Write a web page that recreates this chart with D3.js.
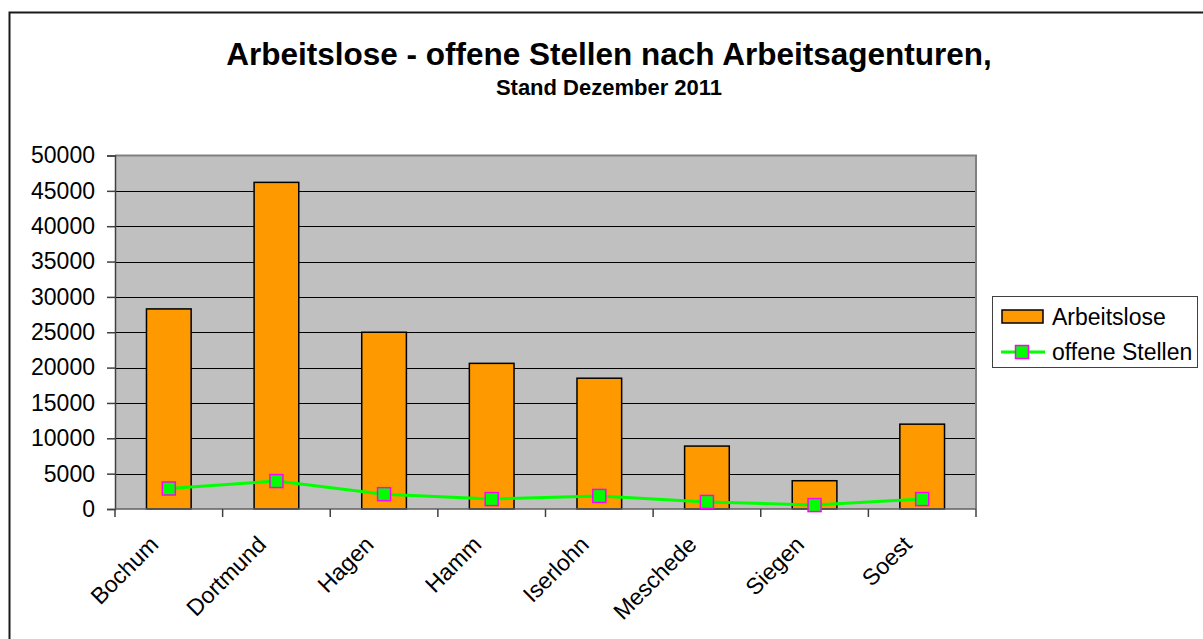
<html>
<head>
  <meta charset="utf-8">
  <title>Arbeitslose - offene Stellen</title>
  <script src="https://cdn.jsdelivr.net/npm/d3@7"></script>
  <style>
    body { margin: 0; background: #fff; }
    text { font-family: "Liberation Sans", Arial, sans-serif; fill: #000; }
  </style>
</head>
<body>
  <div id="chart"></div>
  <script>
    // values
    const cities = ["Bochum", "Dortmund", "Hagen", "Hamm", "Iserlohn", "Meschede", "Siegen", "Soest"];
    const arbeitslose = [28300, 46200, 25000, 20600, 18500, 8900, 4000, 12000];
    const offeneStellen = [2900, 3950, 2100, 1400, 1850, 1000, 550, 1400];
    const yTicks = [0, 5000, 10000, 15000, 20000, 25000, 30000, 35000, 40000, 45000, 50000];
    const seriesNames = ["Arbeitslose", "offene Stellen"];

    const W = 1203, H = 639;
    const plot = { left: 115, right: 976, top: 155.5, bottom: 509 };

    const svg = d3.select("#chart").append("svg")
      .attr("width", W).attr("height", H);

    // outer chart frame
    svg.append("rect")
      .attr("x", 9.5).attr("y", 12.5)
      .attr("width", 1300).attr("height", 800)
      .attr("fill", "#fff").attr("stroke", "#1a1a1a").attr("stroke-width", 2);

    // title
    svg.append("text")
      .attr("x", 609).attr("y", 65)
      .attr("text-anchor", "middle")
      .style("font-weight", "bold").style("font-size", "31.5px")
      .text("Arbeitslose - offene Stellen nach Arbeitsagenturen,");
    svg.append("text")
      .attr("x", 609).attr("y", 95)
      .attr("text-anchor", "middle")
      .style("font-weight", "bold").style("font-size", "22px")
      .text("Stand Dezember 2011");

    const x = d3.scaleBand()
      .domain(cities)
      .range([plot.left, plot.right])
      .padding(0);
    const y = d3.scaleLinear()
      .domain([0, 50000])
      .range([plot.bottom, plot.top]);

    // plot background
    svg.append("rect")
      .attr("x", plot.left).attr("y", plot.top)
      .attr("width", plot.right - plot.left).attr("height", plot.bottom - plot.top)
      .attr("fill", "#c0c0c0");

    // gridlines
    svg.append("g")
      .selectAll("line")
      .data(yTicks.filter(d => d > 0 && d < 50000))
      .enter().append("line")
      .attr("x1", plot.left).attr("x2", plot.right)
      .attr("y1", d => Math.round(y(d)) + 0.5).attr("y2", d => Math.round(y(d)) + 0.5)
      .attr("stroke", "#000").attr("stroke-width", 1);

    // plot border (top/right)
    svg.append("path")
      .attr("d", `M${plot.left},${plot.top}H${plot.right}V${plot.bottom}`)
      .attr("fill", "none").attr("stroke", "#808080").attr("stroke-width", 2);

    // bars
    const barW = x.bandwidth() * 0.415;
    svg.append("g")
      .selectAll("rect")
      .data(cities.map((c, i) => [c, arbeitslose[i]]))
      .enter().append("rect")
      .attr("x", d => x(d[0]) + (x.bandwidth() - barW) / 2)
      .attr("y", d => y(d[1]))
      .attr("width", barW)
      .attr("height", d => plot.bottom - y(d[1]))
      .attr("fill", "#ff9900")
      .attr("stroke", "#000").attr("stroke-width", 1.5);

    // y axis
    const yAxis = svg.append("g")
      .attr("transform", `translate(${plot.left},0)`)
      .call(d3.axisLeft(y).tickValues(yTicks).tickSize(8).tickPadding(12).tickFormat(d3.format("d")));
    yAxis.select(".domain").attr("stroke", "#404040").attr("stroke-width", 1.5);
    yAxis.selectAll(".tick line").attr("stroke", "#404040").attr("stroke-width", 1.5);
    yAxis.selectAll("text")
      .style("font-size", "23px").style("font-family", "'Liberation Sans', Arial, sans-serif")
      .attr("fill", "#000");

    // x axis
    const boundaries = d3.range(cities.length + 1).map(i => plot.left + i * x.bandwidth());
    const xAxis = svg.append("g");
    xAxis.append("line")
      .attr("x1", plot.left).attr("x2", plot.right)
      .attr("y1", plot.bottom).attr("y2", plot.bottom)
      .attr("stroke", "#606060").attr("stroke-width", 1.5);
    xAxis.selectAll("line.tick")
      .data(boundaries)
      .enter().append("line")
      .attr("class", "tick")
      .attr("x1", d => d).attr("x2", d => d)
      .attr("y1", plot.bottom).attr("y2", plot.bottom + 8)
      .attr("stroke", "#404040").attr("stroke-width", 1.5);
    xAxis.selectAll("text")
      .data(cities)
      .enter().append("text")
      .attr("transform", d => `translate(${x(d) + x.bandwidth() / 2 - 9},${plot.bottom + 37}) rotate(-45)`)
      .attr("text-anchor", "end")
      .style("font-size", "23px")
      .text(d => d);

    // line series
    const line = d3.line()
      .x((d, i) => x(cities[i]) + x.bandwidth() / 2)
      .y(d => y(d));
    svg.append("path")
      .datum(offeneStellen)
      .attr("d", line)
      .attr("fill", "none")
      .attr("stroke", "#00ff00").attr("stroke-width", 3);
    const mk = 13;
    svg.append("g")
      .selectAll("rect")
      .data(offeneStellen)
      .enter().append("rect")
      .attr("x", (d, i) => x(cities[i]) + x.bandwidth() / 2 - mk / 2)
      .attr("y", d => y(d) - mk / 2)
      .attr("width", mk).attr("height", mk)
      .attr("fill", "#00ff00")
      .attr("stroke", "#ff00ff").attr("stroke-width", 1.5);

    // legend
    const lg = svg.append("g");
    lg.append("rect")
      .attr("x", 992.5).attr("y", 296.5)
      .attr("width", 205).attr("height", 71)
      .attr("fill", "#fff").attr("stroke", "#404040").attr("stroke-width", 1);
    lg.append("rect")
      .attr("x", 1002).attr("y", 310)
      .attr("width", 41).attr("height", 13)
      .attr("fill", "#ff9900").attr("stroke", "#000").attr("stroke-width", 1.5);
    lg.append("text")
      .attr("x", 1052).attr("y", 325)
      .style("font-size", "23px")
      .text(seriesNames[0]);
    lg.append("line")
      .attr("x1", 1001).attr("x2", 1045)
      .attr("y1", 352).attr("y2", 352)
      .attr("stroke", "#00ff00").attr("stroke-width", 3);
    lg.append("rect")
      .attr("x", 1022 - mk / 2).attr("y", 352 - mk / 2)
      .attr("width", mk).attr("height", mk)
      .attr("fill", "#00ff00").attr("stroke", "#ff00ff").attr("stroke-width", 1.5);
    lg.append("text")
      .attr("x", 1052).attr("y", 360)
      .style("font-size", "23px")
      .text(seriesNames[1]);
  </script>
</body>
</html>
